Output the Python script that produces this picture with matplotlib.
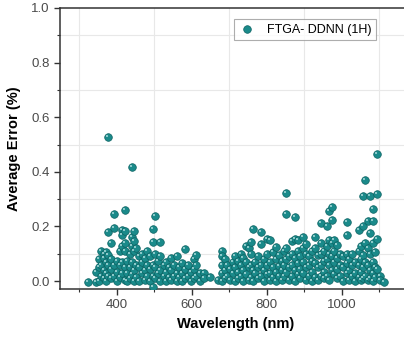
import matplotlib.pyplot as plt
from matplotlib.path import Path
from matplotlib.ticker import MultipleLocator

# (wavelength, average error), grouped by wavelength column
groups = [
    (323, [-0.005]),
    (345, [-0.004, 0.035]),
    (352, [0.08, 0.0, 0.05]),
    (358, [0.11, 0.06, 0.02]),
    (365, [0.1, 0.04, 0.085, 0.01]),
    (372, [0.105, 0.07, 0.03, 0.0]),
    (378, [0.18, 0.095, 0.06, 0.02, 0.528]),
    (385, [0.138, 0.08, 0.045, 0.01]),
    (392, [0.194, 0.245, 0.06, 0.02]),
    (400, [0.075, 0.035, 0.0]),
    (408, [0.11, 0.06, 0.015]),
    (415, [0.188, 0.17, 0.13, 0.07, 0.03]),
    (421, [0.259, 0.185, 0.138, 0.11, 0.05, 0.005]),
    (428, [0.075, 0.03, 0.0]),
    (435, [0.1, 0.05, 0.01]),
    (441, [0.417, 0.16, 0.13, 0.07, 0.025]),
    (446, [0.184, 0.145, 0.11, 0.04, 0.0]),
    (452, [0.12, 0.06, 0.015]),
    (460, [0.09, 0.05, 0.0]),
    (468, [0.1, 0.07, 0.03]),
    (475, [0.085, 0.04, 0.005]),
    (482, [0.11, 0.06, 0.02]),
    (490, [0.09, 0.045, 0.0]),
    (496, [0.19, 0.142, 0.06, 0.02, -0.02]),
    (503, [0.24, 0.1, 0.05, 0.01]),
    (510, [0.075, 0.03]),
    (516, [0.142, 0.09, 0.04, 0.0]),
    (525, [0.06, 0.02]),
    (532, [0.07, 0.035, 0.0]),
    (540, [0.05, 0.015]),
    (546, [0.085, 0.04, 0.005]),
    (553, [0.06, 0.02]),
    (560, [0.09, 0.03, 0.0]),
    (567, [0.05, 0.015]),
    (574, [0.065, 0.03, 0.0]),
    (582, [0.118, 0.045, 0.01]),
    (590, [0.06, 0.02]),
    (598, [0.035, 0.0]),
    (605, [0.08, 0.045, 0.01]),
    (612, [0.095, 0.06, 0.02]),
    (622, [0.03, 0.0]),
    (633, [0.03, 0.01]),
    (650, [0.016]),
    (670, [0.005]),
    (680, [0.11, 0.09, 0.06, 0.03, 0.0]),
    (688, [0.08, 0.04, 0.01]),
    (695, [0.06, 0.02]),
    (702, [0.045, 0.005]),
    (710, [0.07, 0.03]),
    (716, [0.09, 0.05, 0.0]),
    (724, [0.075, 0.035, 0.01]),
    (731, [0.1, 0.06, 0.02]),
    (738, [0.085, 0.04, 0.0]),
    (746, [0.13, 0.07, 0.025]),
    (752, [0.12, 0.05, 0.005]),
    (758, [0.142, 0.1, 0.06, 0.015]),
    (764, [0.191, 0.04, 0.0]),
    (770, [0.07, 0.03]),
    (778, [0.09, 0.05, 0.01]),
    (785, [0.178, 0.135, 0.06, 0.02]),
    (792, [0.08, 0.04, 0.0]),
    (800, [0.153, 0.1, 0.06, 0.025]),
    (810, [0.151, 0.07, 0.03, 0.005]),
    (818, [0.105, 0.05, 0.015]),
    (825, [0.124, 0.08, 0.035, 0.0]),
    (833, [0.095, 0.055, 0.02]),
    (840, [0.075, 0.04, 0.005]),
    (847, [0.11, 0.06, 0.02]),
    (852, [0.322, 0.245, 0.12, 0.08, 0.035]),
    (860, [0.09, 0.05, 0.005]),
    (868, [0.145, 0.1, 0.06, 0.02]),
    (875, [0.234, 0.155, 0.085, 0.04, 0.0]),
    (883, [0.15, 0.11, 0.065, 0.025]),
    (890, [0.09, 0.045, 0.01]),
    (898, [0.16, 0.12, 0.07, 0.03]),
    (906, [0.135, 0.1, 0.05, 0.005]),
    (914, [0.09, 0.06, 0.02]),
    (922, [0.11, 0.075, 0.035, 0.0]),
    (930, [0.16, 0.12, 0.065, 0.015]),
    (938, [0.095, 0.05, 0.005]),
    (946, [0.212, 0.14, 0.1, 0.06, 0.02]),
    (954, [0.11, 0.075, 0.035, 0.01]),
    (961, [0.202, 0.13, 0.08, 0.02]),
    (967, [0.255, 0.15, 0.1, 0.06, 0.005]),
    (973, [0.273, 0.224, 0.14, 0.09, 0.04]),
    (980, [0.15, 0.11, 0.07, 0.025]),
    (988, [0.132, 0.085, 0.045, 0.01]),
    (996, [0.1, 0.06, 0.02]),
    (1004, [0.09, 0.05, 0.0]),
    (1013, [0.216, 0.167, 0.1, 0.065, 0.03]),
    (1020, [0.08, 0.04, 0.005]),
    (1028, [0.1, 0.06, 0.02]),
    (1036, [0.07, 0.03, 0.0]),
    (1045, [0.187, 0.11, 0.06, 0.015]),
    (1052, [0.13, 0.08, 0.035, 0.005]),
    (1058, [0.31, 0.2, 0.095, 0.05, 0.01]),
    (1063, [0.371, 0.14, 0.07, 0.02]),
    (1070, [0.221, 0.12, 0.06, 0.005]),
    (1076, [0.31, 0.175, 0.1, 0.04, 0.01]),
    (1084, [0.265, 0.221, 0.138, 0.07, 0.03, 0.0]),
    (1090, [0.105, 0.05, 0.015]),
    (1095, [0.464, 0.319, 0.153, 0.045]),
    (1103, [0.02, 0.005]),
    (1112, [-0.005]),
]

wavelength = [wl for wl, vals in groups for _ in vals]
avg_error = [v for _, vals in groups for v in vals]

label = "FTGA- DDNN (1H)"
teal = "#1a8a8a"

plt.rcParams['font.family'] = ['Liberation Sans', 'DejaVu Sans']

fig = plt.figure(figsize=(4.04, 3.39), dpi=100)
ax = fig.add_axes([0.1485, 0.1475, 0.87, 0.829])

# small off-centre highlight so the dots look like little spheres
hl = Path.circle((-0.2, 0.2), 0.14)

ax.scatter(wavelength, avg_error, s=30, color=teal, edgecolor="#0d6262",
           linewidth=0.5, zorder=3, label=label)
ax.scatter(wavelength, avg_error, s=30 * 0.45, marker=hl, color="#b5e2e2",
           linewidth=0, alpha=0.85, zorder=4)

ax.set_xlim(249, 1186)
ax.set_ylim(-0.029, 1.0)
ax.xaxis.set_major_locator(MultipleLocator(200))
ax.xaxis.set_minor_locator(MultipleLocator(100))
ax.yaxis.set_major_locator(MultipleLocator(0.2))
ax.yaxis.set_minor_locator(MultipleLocator(0.1))
ax.yaxis.set_major_formatter(plt.FormatStrFormatter('%.1f'))

ax.grid(which='minor', color='#e8e8e8', linewidth=0.8, zorder=0)
ax.tick_params(which='both', direction='out', colors='#333333', labelsize=9.5,
               top=False, right=False)
ax.tick_params(which='major', length=4, width=1)
ax.tick_params(which='minor', length=2.5, width=0.8)
ax.tick_params(labelcolor='#4a4a4a')

for side in ['left', 'bottom', 'top']:
    ax.spines[side].set_color('#333333')
    ax.spines[side].set_linewidth(1.1)
ax.spines['right'].set_visible(False)

ax.set_xlabel("Wavelength (nm)", fontsize=10.5, fontweight='bold', labelpad=4)
ax.set_ylabel("Average Error (%)", fontsize=10.5, fontweight='bold', labelpad=7)

leg = ax.legend(loc='upper left', bbox_to_anchor=(0.477, 0.982), fontsize=9,
                frameon=True, fancybox=False, edgecolor='#999999',
                borderpad=0.35, handletextpad=0.9, handlelength=1.4)
leg.get_frame().set_linewidth(0.8)

fig.savefig("out.png", dpi=100)
